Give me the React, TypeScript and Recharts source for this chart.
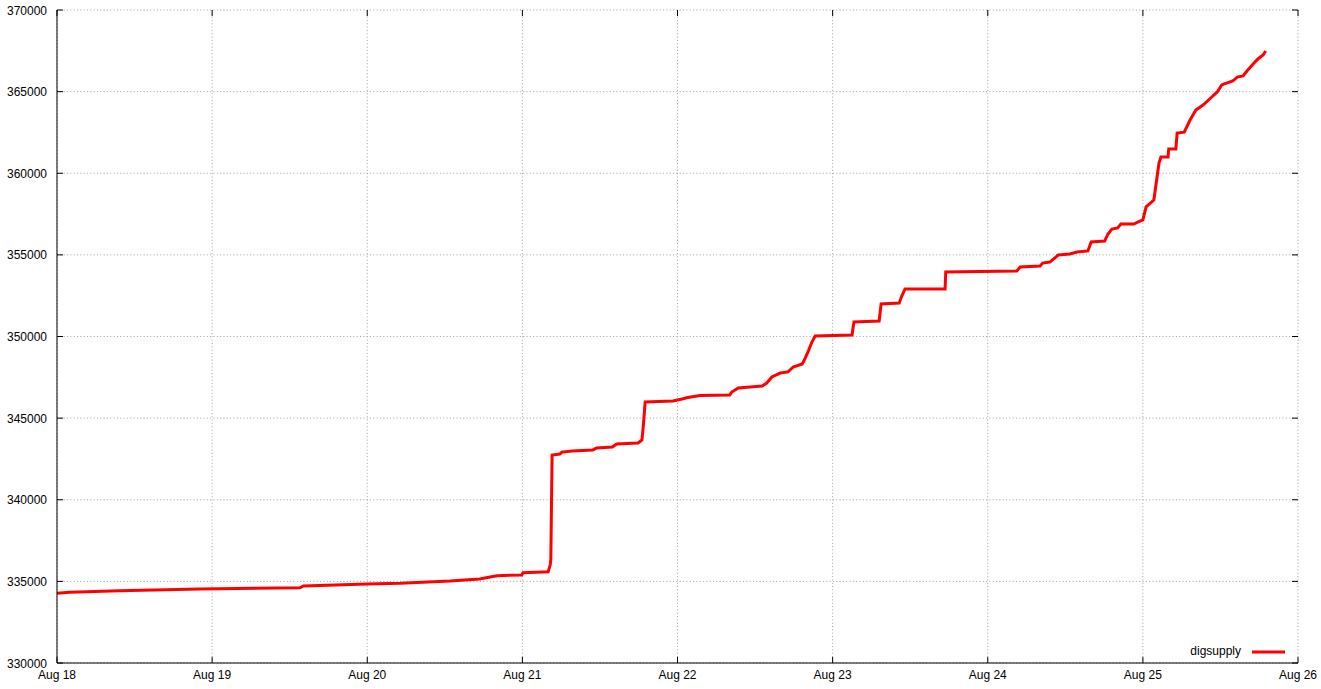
import React from "react";
import { LineChart, Line, XAxis, YAxis, CartesianGrid, Legend } from "recharts";

// hours since Aug 18 00:00
const hours = [
  0, 2.0, 9.7, 22.1, 37.6, 38.1, 48.0, 53.1, 60.8, 65.4, 67.0, 68.1, 71.9, 72.1, 76.0, 76.3, 76.4, 76.6,
  77.8, 78.1, 79.7, 82.9, 83.5, 85.9, 86.6, 89.9, 90.5, 90.7, 91.0, 95.3, 96.7, 97.6, 99.5, 104.1, 104.4,
  105.4, 109.1, 109.8, 110.6, 111.9, 113.1, 113.9, 115.3, 115.7, 116.3, 116.8, 117.3, 123.0, 123.3, 127.2,
  127.5, 130.3, 130.7, 131.2, 137.4, 137.5, 148.5, 149.0, 152.1, 152.5, 153.6, 154.9, 156.7, 157.8, 159.5,
  160.0, 162.1, 162.6, 163.2, 164.1, 164.6, 166.6, 167.2, 168.0, 168.5, 169.7, 170.0, 170.5, 170.8, 171.9,
  172.0, 173.1, 173.3, 174.4, 175.3, 176.2, 177.3, 178.5, 179.5, 180.2, 181.9, 182.6, 183.5, 184.1, 185.2,
  185.8, 186.6, 187.0,
];
const supply = [
  334270, 334330, 334430, 334530, 334610, 334720, 334840, 334880, 335020, 335150, 335270, 335350, 335390,
  335530, 335590, 336000, 336310, 342740, 342800, 342920, 342990, 343050, 343170, 343230, 343420, 343480,
  343660, 344460, 345990, 346050, 346170, 346260, 346390, 346420, 346600, 346850, 346970, 347150, 347520,
  347760, 347830, 348130, 348320, 348620, 349170, 349660, 350030, 350090, 350890, 350950, 351990, 352050,
  352480, 352910, 352910, 353950, 354010, 354260, 354320, 354500, 354560, 354990, 355050, 355170, 355240,
  355790, 355850, 356280, 356580, 356650, 356890, 356890, 357010, 357140, 357940, 358360, 359220, 360630,
  360990, 360990, 361480, 361480, 362460, 362520, 363260, 363870, 364180, 364610, 364980, 365410, 365650,
  365890, 365960, 366260, 366750, 367000, 367240, 367490,
];
const xMajorTicks = [0, 24, 48, 72, 96, 120, 144, 168, 192];
const xLabels = ["Aug 18", "Aug 19", "Aug 20", "Aug 21", "Aug 22", "Aug 23", "Aug 24", "Aug 25", "Aug 26"];
const xMinorTicks = [6, 12, 18, 30, 36, 42, 54, 60, 66, 78, 84, 90, 102, 108, 114, 126, 132, 138, 150, 156, 162, 174, 180, 186];
const yTicks = [330000, 335000, 340000, 345000, 350000, 355000, 360000, 365000, 370000];
const seriesName = "digsupply";

const data = hours.map((h, i) => ({ h, v: supply[i] }));

const W = 1321;
const H = 689;
const TOP = 10;
const RIGHT = 23;
const XH = 26;
const YW = 57;
const BOTTOM = H - XH;
const LEFTX = YW;
const RIGHTX = W - RIGHT;
const FONT = "'Liberation Sans', Arial, sans-serif";

const XMajorTick = (props: any) => {
  const { x, payload } = props;
  const idx = xMajorTicks.indexOf(payload.value);
  return (
    <g>
      <line x1={x} x2={x} y1={BOTTOM} y2={BOTTOM - 6} stroke="#000" strokeWidth={1} />
      <line x1={x} x2={x} y1={TOP} y2={TOP + 6} stroke="#000" strokeWidth={1} />
      <text x={x} y={679} textAnchor="middle" fontSize={12} fontFamily={FONT} fill="#000">
        {idx >= 0 ? xLabels[idx] : ""}
      </text>
    </g>
  );
};

const XMinorTick = (props: any) => {
  const { x } = props;
  return (
    <g>
      <line x1={x} x2={x} y1={BOTTOM} y2={BOTTOM - 3} stroke="#000" strokeWidth={1} />
      <line x1={x} x2={x} y1={TOP} y2={TOP + 3} stroke="#000" strokeWidth={1} />
    </g>
  );
};

const YTick = (props: any) => {
  const { y, payload } = props;
  return (
    <g>
      <line x1={LEFTX} x2={LEFTX + 6} y1={y} y2={y} stroke="#000" strokeWidth={1} />
      <line x1={RIGHTX} x2={RIGHTX - 6} y1={y} y2={y} stroke="#000" strokeWidth={1} />
      <text x={47} y={y + 4.5} textAnchor="end" fontSize={12} fontFamily={FONT} fill="#000">
        {String(payload.value)}
      </text>
    </g>
  );
};

const LegendContent = () => (
  <svg width={160} height={24} style={{ display: "block" }}>
    <text x={101} y={13} textAnchor="end" fontSize={12} fontFamily={FONT} fill="#000">
      {seriesName}
    </text>
    <line x1={112} x2={145} y1={10} y2={10} stroke="#ff0000" strokeWidth={3} />
  </svg>
);

export default function App() {
  return (
    <div style={{ position: "absolute", left: 0, top: 0, width: W, height: H, background: "#fff" }}>
      <LineChart width={W} height={H} data={data} margin={{ top: TOP, right: RIGHT, bottom: 0, left: 0 }}>
        <CartesianGrid stroke="#a0a0a0" strokeDasharray="1 2.33" strokeWidth={1} />
        <XAxis
          dataKey="h"
          type="number"
          domain={[0, 192]}
          ticks={xMajorTicks}
          interval={0}
          height={XH}
          tickLine={false}
          tickSize={0}
          axisLine={{ stroke: "#000", strokeWidth: 1 }}
          tick={<XMajorTick />}
          allowDataOverflow
        />
        <XAxis
          xAxisId="minor"
          dataKey="h"
          type="number"
          domain={[0, 192]}
          ticks={xMinorTicks}
          interval={0}
          height={0}
          tickLine={false}
          tickSize={0}
          axisLine={false}
          tick={<XMinorTick />}
          allowDataOverflow
        />
        <XAxis
          xAxisId="top"
          orientation="top"
          type="number"
          domain={[0, 192]}
          height={0}
          tick={false}
          tickLine={false}
          axisLine={{ stroke: "#000", strokeWidth: 1 }}
        />
        <YAxis
          type="number"
          domain={[330000, 370000]}
          ticks={yTicks}
          interval={0}
          width={YW}
          tickLine={false}
          tickSize={0}
          axisLine={{ stroke: "#000", strokeWidth: 1 }}
          tick={<YTick />}
          allowDataOverflow
        />
        <YAxis
          yAxisId="right"
          orientation="right"
          type="number"
          domain={[330000, 370000]}
          width={0}
          tick={false}
          tickLine={false}
          axisLine={{ stroke: "#000", strokeWidth: 1 }}
        />
        <Legend
          layout="horizontal"
          verticalAlign="middle"
          align="center"
          content={<LegendContent />}
          wrapperStyle={{ position: "absolute", left: 1140, top: 642, width: 160, height: 24 }}
        />
        <Line
          type="linear"
          dataKey="v"
          name={seriesName}
          stroke="#ff0000"
          strokeWidth={3}
          dot={false}
          isAnimationActive={false}
        />
      </LineChart>
    </div>
  );
}
